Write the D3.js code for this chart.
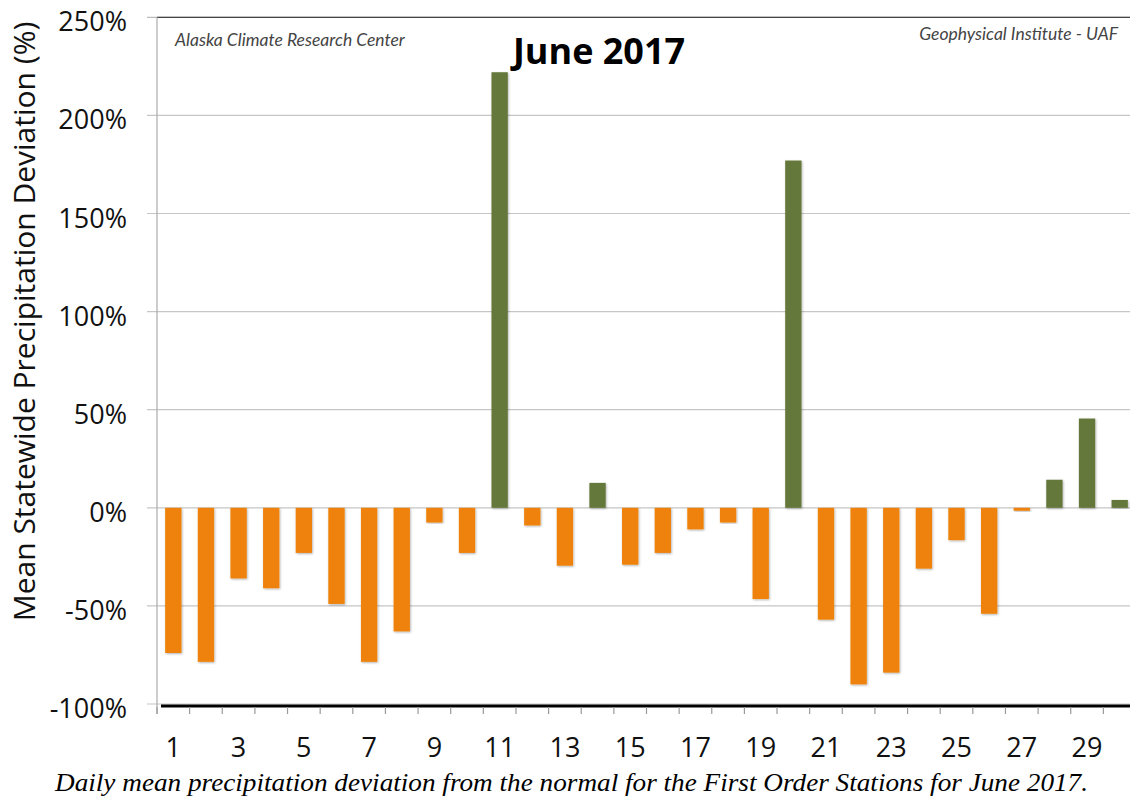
<!DOCTYPE html>
<html>
<head>
<meta charset="utf-8">
<script src="https://cdn.jsdelivr.net/npm/d3@7"></script>
<style>
html,body{margin:0;padding:0;background:#fff;}
svg{display:block;}
</style>
</head>
<body>
<svg id="chart" width="1130" height="797"></svg>
<script>
const days = d3.range(1, 31);
const deviation = [-74, -78.5, -36, -41, -23, -49, -78.5, -63, -7.5, -23,
  222, -9, -29.5, 12.7, -29, -23, -11, -7.5, -46.5, 177,
  -57, -90, -84, -31, -16.5, -54, -1.5, 14.3, 45.5, 4];
const yTicks = [-100, -50, 0, 50, 100, 150, 200, 250];
const xLabelDays = [1, 3, 5, 7, 9, 11, 13, 15, 17, 19, 21, 23, 25, 27, 29];

const svg = d3.select("#chart");
const plotLeft = 157, plotRight = 1136, plotTop = 17.3, plotBottom = 704;

const x = d3.scaleBand().domain(days).range([plotLeft, plotRight]).paddingInner(0.5).paddingOuter(0.25);
const y = d3.scaleLinear().domain([-100, 250]).range([plotBottom, plotTop]);

const defs = svg.append("defs");
const f = defs.append("filter").attr("id", "sh").attr("x", "-30%").attr("y", "-10%").attr("width", "160%").attr("height", "120%");
f.append("feDropShadow").attr("dx", 0.8).attr("dy", 1).attr("stdDeviation", 0.9).attr("flood-color", "#000").attr("flood-opacity", 0.3);

// gridlines
svg.append("g").selectAll("line").data(yTicks).join("line")
  .attr("x1", 147).attr("x2", 1130)
  .attr("y1", d => y(d)).attr("y2", d => y(d))
  .attr("stroke", d => d === 250 ? "#bbb" : "#c6c6c6").attr("stroke-width", 1.2);
// top border darker
svg.append("line").attr("x1", plotLeft).attr("x2", 1130).attr("y1", y(250)).attr("y2", y(250))
  .attr("stroke", "#444").attr("stroke-width", 1.2);

// vertical axis line
svg.append("line").attr("x1", plotLeft).attr("x2", plotLeft).attr("y1", y(250)).attr("y2", 714)
  .attr("stroke", "#aaa").attr("stroke-width", 1.2);

// y tick labels
svg.append("g").selectAll("text").data(yTicks).join("text")
  .attr("x", 127).attr("y", d => y(d) + 14)
  .attr("text-anchor", "end")
  .attr("font-family", "Open Sans, sans-serif").attr("font-size", 27).attr("fill", "#111")
  .text(d => d + "%");

// y axis title
svg.append("text")
  .attr("transform", `translate(35, ${(18 + 625) / 2}) rotate(-90)`)
  .attr("text-anchor", "middle")
  .attr("font-family", "Open Sans, sans-serif").attr("font-size", 30).attr("fill", "#111")
  .text("Mean Statewide Precipitation Deviation (%)");

// bars
svg.append("g").selectAll("rect").data(days).join("rect")
  .attr("x", d => x(d))
  .attr("width", x.bandwidth())
  .attr("y", (d, i) => y(Math.max(0, deviation[i])))
  .attr("height", (d, i) => Math.abs(y(deviation[i]) - y(0)))
  .attr("fill", (d, i) => deviation[i] >= 0 ? "#65783A" : "#EE8208")
  .attr("filter", "url(#sh)");

// bottom thick axis line
svg.append("line").attr("x1", 161).attr("x2", 1130).attr("y1", 706).attr("y2", 706)
  .attr("stroke", "#000").attr("stroke-width", 3);

// category boundary ticks
const step = x.step();
svg.append("g").selectAll("line").data(d3.range(0, 31)).join("line")
  .attr("x1", i => plotLeft + i * step).attr("x2", i => plotLeft + i * step)
  .attr("y1", 707).attr("y2", 714)
  .attr("stroke", "#999").attr("stroke-width", 1.2);

// x labels
svg.append("g").selectAll("text").data(xLabelDays).join("text")
  .attr("x", d => x(d) + x.bandwidth() / 2)
  .attr("y", 757)
  .attr("text-anchor", "middle")
  .attr("font-family", "Open Sans, sans-serif").attr("font-size", 27).attr("fill", "#111")
  .text(d => d);

// title
svg.append("text").attr("x", 599).attr("y", 64).attr("text-anchor", "middle")
  .attr("font-family", "Open Sans, sans-serif").attr("font-weight", "bold").attr("font-size", 36)
  .attr("fill", "#000").text("June 2017");

// source labels
svg.append("text").attr("x", 175).attr("y", 46)
  .attr("font-family", "Lato, sans-serif").attr("font-style", "italic").attr("font-size", 17.5)
  .attr("fill", "#444").text("Alaska Climate Research Center");
svg.append("text").attr("x", 1118).attr("y", 40).attr("text-anchor", "end")
  .attr("font-family", "Lato, sans-serif").attr("font-style", "italic").attr("font-size", 17.5)
  .attr("fill", "#444").text("Geophysical Institute - UAF");

// caption
svg.append("text").attr("x", 571.5).attr("y", 791).attr("text-anchor", "middle")
  .attr("font-family", "Liberation Serif, serif").attr("font-style", "italic").attr("font-size", 25)
  .attr("textLength", 1033).attr("lengthAdjust", "spacingAndGlyphs")
  .attr("fill", "#000").text("Daily mean precipitation deviation from the normal for the First Order Stations for June 2017.");
</script>
</body>
</html>
